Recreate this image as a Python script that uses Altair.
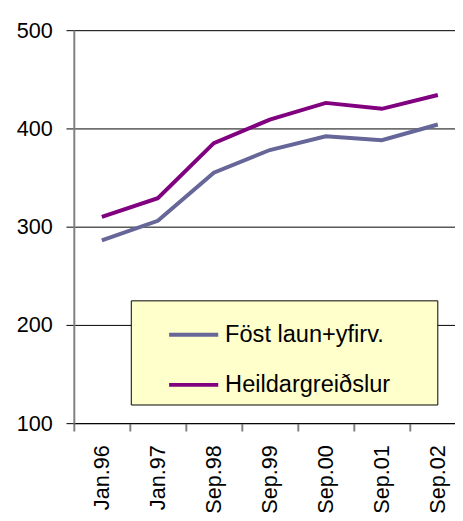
import altair as alt
import pandas as pd

categories = ["Jan.96", "Jan.97", "Sep.98", "Sep.99", "Sep.00", "Sep.01", "Sep.02"]
series_names = ["Föst laun+yfirv.", "Heildargreiðslur"]
fost_laun = [286, 306, 355, 378, 392, 388, 404]
heildar = [310, 329, 385, 409, 426, 420, 434]
y_ticks = [100, 200, 300, 400, 500]
colors = ["#666699", "#800080"]

rows = []
for name, vals in zip(series_names, [fost_laun, heildar]):
    for c, v in zip(categories, vals):
        rows.append({"cat": c, "series": name, "value": v})
df = pd.DataFrame(rows)

FONT = "Liberation Sans"

chart = alt.Chart(df).mark_line(strokeWidth=4).encode(
    x=alt.X("cat:N", sort=categories, title=None,
            scale=alt.Scale(range=[0, 399], paddingInner=0, paddingOuter=0),
            axis=alt.Axis(tickBand="extent", labelAngle=-90, labelFontSize=22,
                          labelFont=FONT, labelColor="black", labelPadding=14,
                          tickSize=8, tickColor="#808080", tickWidth=2,
                          domainColor="black", domainWidth=1, grid=False)),
    y=alt.Y("value:Q", title=None,
            scale=alt.Scale(domain=[100, 500], nice=False, zero=False),
            axis=alt.Axis(values=y_ticks, labelFontSize=22, labelFont=FONT,
                          labelColor="black", labelPadding=14, tickSize=8,
                          tickColor="black", tickWidth=1, grid=True,
                          gridColor="black", gridWidth=1, gridOpacity=1,
                          domainColor="#808080", domainWidth=2)),
    color=alt.Color("series:N", sort=series_names,
                    scale=alt.Scale(domain=series_names, range=colors),
                    legend=alt.Legend(title="\u00a0", titleOrient="right", titlePadding=40,
                                      titleFontSize=10,
                                      orient="none", legendX=58, legendY=275,
                                      fillColor="#FFFFCC", strokeColor="black",
                                      padding=8, symbolType="stroke", symbolSize=2500,
                                      symbolStrokeWidth=4, symbolOffset=29,
                                      labelOffset=5, labelFontSize=24, labelFont=FONT,
                                      labelColor="black", rowPadding=12, labelLimit=400)),
).properties(
    width=388, height=400,
    autosize=alt.AutoSizeParams(type="none"),
    padding={"left": 67, "top": 18, "right": 0, "bottom": 95},
).configure_view(stroke=None).configure(background="white")

chart.save("out.html", embed_options={"renderer": "svg", "actions": False})
